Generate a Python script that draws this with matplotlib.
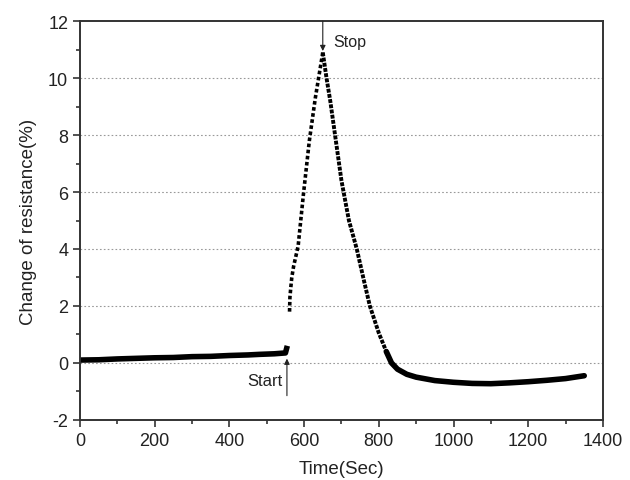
import matplotlib.pyplot as plt
from matplotlib.ticker import MultipleLocator

plt.rcParams['font.family'] = ['Liberation Sans', 'DejaVu Sans']
plt.rcParams['axes.unicode_minus'] = False

# Values
base_time = [0, 50, 100, 150, 200, 250, 300, 350, 400, 450, 480, 520, 550, 555]
base_res = [0.1, 0.11, 0.14, 0.16, 0.18, 0.19, 0.22, 0.23, 0.26, 0.28, 0.3, 0.32, 0.35, 0.6]

rise_time = [561, 562, 564, 567, 572, 584, 598, 614, 630, 645, 650]
rise_res = [1.8, 2.3, 2.6, 3.0, 3.4, 4.1, 5.9, 7.8, 9.3, 10.5, 10.9]

decay_time = [650, 660, 670, 685, 700, 720, 741, 760, 776, 800, 820]
decay_res = [10.9, 10.0, 9.2, 7.8, 6.4, 5.0, 4.0, 2.9, 2.0, 1.05, 0.4]

tail_time = [820, 834, 850, 875, 900, 950, 1000, 1050, 1100, 1150, 1200, 1250, 1300, 1350]
tail_res = [0.4, 0.0, -0.22, -0.4, -0.5, -0.62, -0.68, -0.72, -0.73, -0.7, -0.66, -0.61, -0.55, -0.45]

fig = plt.figure(figsize=(6.3, 4.81), dpi=100)
ax = fig.add_axes([0.127, 0.125, 0.83, 0.829])

ax.plot(base_time, base_res, color='black', lw=4.0, solid_capstyle='butt')
ax.plot(rise_time, rise_res, color='black', lw=2.6, linestyle=(0, (1, 0.7)))
ax.plot(decay_time, decay_res, color='black', lw=2.8, linestyle=(0, (1, 0.35)))
ax.plot(tail_time, tail_res, color='black', lw=4.0, solid_capstyle='round')

# Start / Stop markers
arrow = dict(arrowstyle='-|>', lw=0.8, color='#222222', mutation_scale=8, shrinkA=0, shrinkB=0)
ax.annotate('', xy=(554, 0.15), xytext=(554, -1.15), arrowprops=arrow)
ax.annotate('', xy=(650, 10.95), xytext=(650, 12), arrowprops=arrow)
ax.text(543, -0.6, 'Start', ha='right', va='center', fontsize=12, color='#222222')
ax.text(678, 11.3, 'Stop', ha='left', va='center', fontsize=11.5, color='#222222')

ax.set_xlim(0, 1400)
ax.set_ylim(-2, 12)
ax.xaxis.set_major_locator(MultipleLocator(200))
ax.xaxis.set_minor_locator(MultipleLocator(100))
ax.yaxis.set_major_locator(MultipleLocator(2))
ax.yaxis.set_minor_locator(MultipleLocator(1))
ax.tick_params(which='both', direction='out', colors='#333333', labelcolor='#222222',
               labelsize=13, width=1.2)
ax.tick_params(which='major', length=5)
ax.tick_params(which='minor', length=3)

for gy in range(0, 12, 2):
    ax.axhline(gy, color='#999999', lw=0.8, linestyle=(0, (1.5, 2)), zorder=0)

for side in ax.spines.values():
    side.set_color('#333333')
    side.set_linewidth(1.4)

ax.set_xlabel('Time(Sec)', fontsize=13.5, color='#222222', labelpad=8)
ax.set_ylabel('Change of resistance(%)', fontsize=13.5, color='#222222', labelpad=8)

plt.savefig('out.png', dpi=100)
